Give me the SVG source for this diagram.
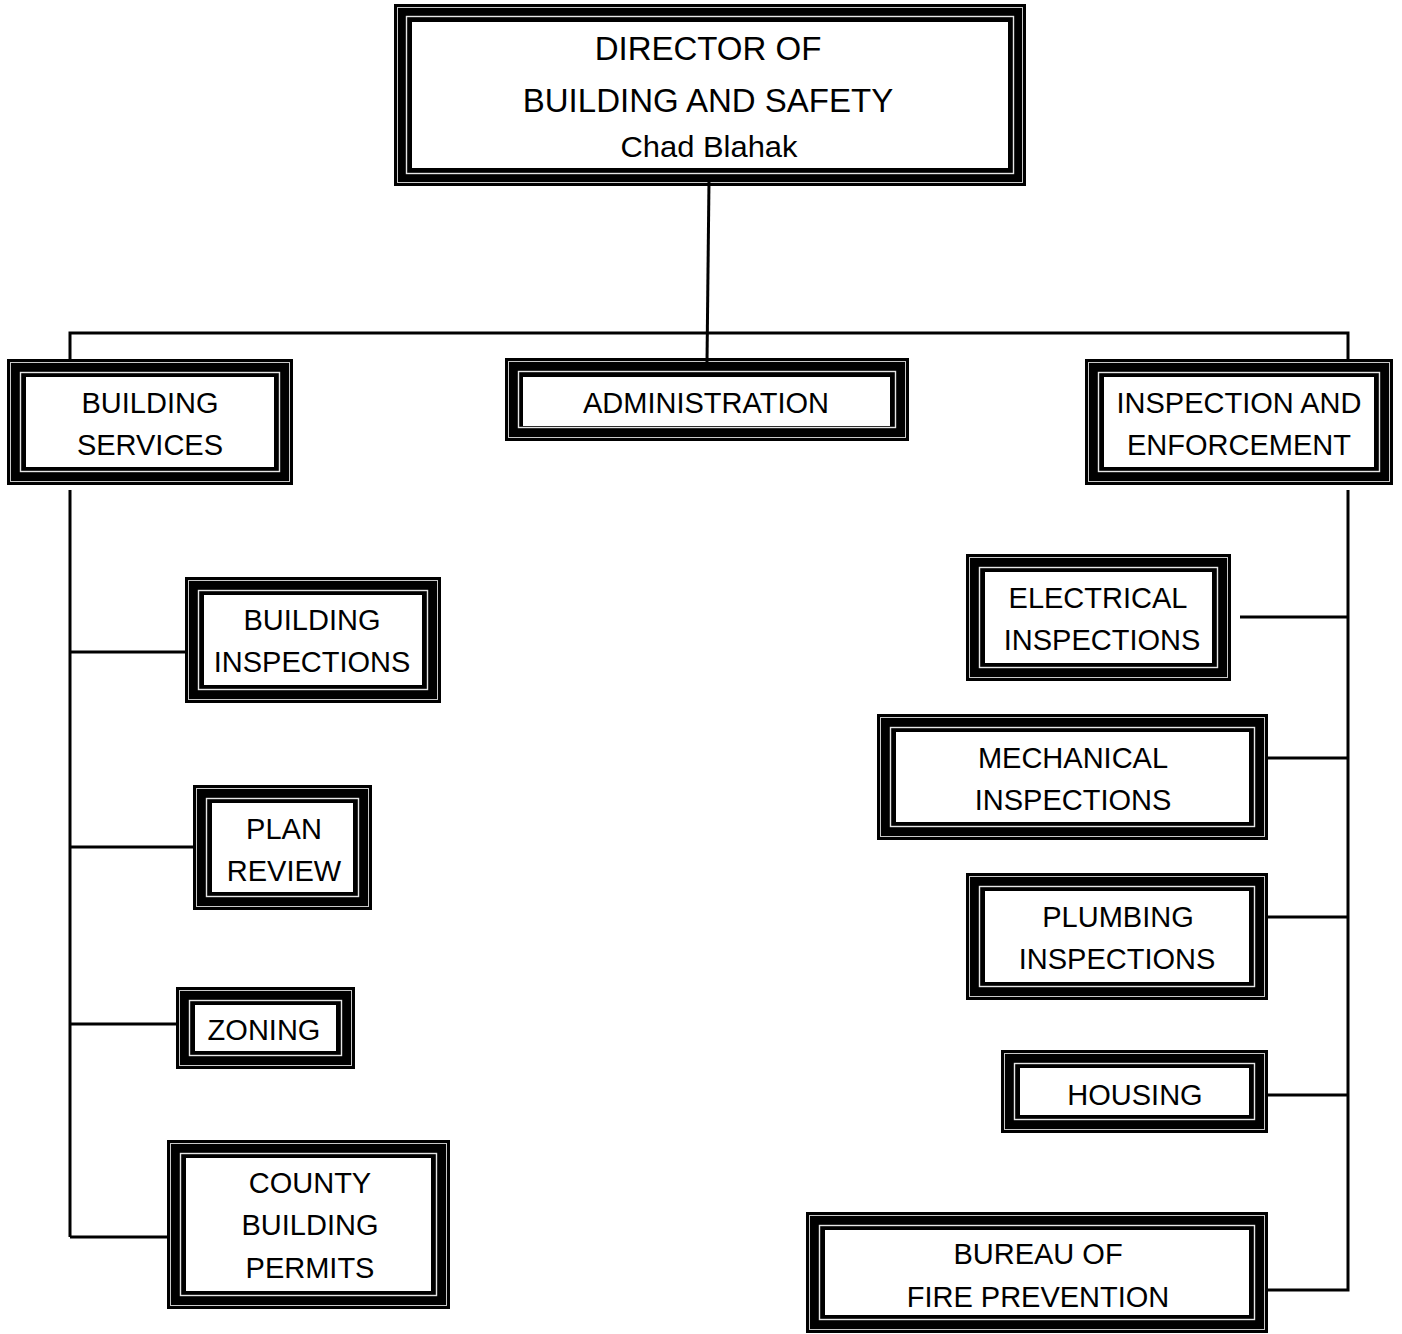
<svg xmlns="http://www.w3.org/2000/svg" width="1402" height="1334" viewBox="0 0 1402 1334">
<style>
.o{fill:#000}
.g1{fill:none;stroke:#c8c8c8;stroke-width:1}
.g2{fill:none;stroke:#e6e6e6;stroke-width:1.4}
.in{fill:#fff}
text{font-family:"Liberation Sans",Arial,sans-serif;font-size:29px;fill:#000;text-anchor:middle}
.big{font-size:33px}
.name{font-size:29px}
.c{fill:none;stroke:#000;stroke-width:3}
</style>
<rect width="1402" height="1334" fill="#fff"/>
<g id="director">
<rect class="o" x="394" y="4" width="632" height="182"/>
<rect class="g1" x="397.5" y="7.5" width="625" height="175"/>
<rect class="g2" x="406.5" y="16.5" width="607" height="157"/>
<rect class="in" x="412" y="22" width="596" height="146"/>
<text class="big" x="708" y="60">DIRECTOR OF</text>
<text class="big" x="708" y="112">BUILDING AND SAFETY</text>
<text class="name" x="709" y="157" textLength="177" lengthAdjust="spacingAndGlyphs">Chad Blahak</text>
</g>
<g id="building-services">
<rect class="o" x="7" y="359" width="286" height="126"/>
<rect class="g1" x="10.5" y="362.5" width="279" height="119"/>
<rect class="g2" x="20.5" y="372.5" width="259" height="99"/>
<rect class="in" x="26" y="377" width="248" height="90"/>
<text x="150" y="413">BUILDING</text>
<text x="150" y="455">SERVICES</text>
</g>
<g id="administration">
<rect class="o" x="505" y="358" width="404" height="83"/>
<rect class="g1" x="508.5" y="361.5" width="397" height="76"/>
<rect class="g2" x="518.5" y="371.5" width="377" height="56"/>
<rect class="in" x="523" y="377" width="367" height="49"/>
<text x="706" y="413">ADMINISTRATION</text>
</g>
<g id="inspection-enforcement">
<rect class="o" x="1085" y="359" width="308" height="126"/>
<rect class="g1" x="1088.5" y="362.5" width="301" height="119"/>
<rect class="g2" x="1098.5" y="372.5" width="281" height="99"/>
<rect class="in" x="1104" y="377" width="270" height="90"/>
<text x="1239" y="413">INSPECTION AND</text>
<text x="1239" y="455">ENFORCEMENT</text>
</g>
<g id="building-inspections">
<rect class="o" x="185" y="577" width="256" height="126"/>
<rect class="g1" x="188.5" y="580.5" width="249" height="119"/>
<rect class="g2" x="198.5" y="590.5" width="229" height="99"/>
<rect class="in" x="204" y="595" width="218" height="90"/>
<text x="312" y="630">BUILDING</text>
<text x="312" y="672">INSPECTIONS</text>
</g>
<g id="plan-review">
<rect class="o" x="193" y="785" width="179" height="125"/>
<rect class="g1" x="196.5" y="788.5" width="172" height="118"/>
<rect class="g2" x="206.5" y="798.5" width="152" height="98"/>
<rect class="in" x="212" y="803" width="141" height="89"/>
<text x="284" y="839">PLAN</text>
<text x="284" y="881">REVIEW</text>
</g>
<g id="zoning">
<rect class="o" x="176" y="987" width="179" height="82"/>
<rect class="g1" x="179.5" y="990.5" width="172" height="75"/>
<rect class="g2" x="189.5" y="1000.5" width="152" height="55"/>
<rect class="in" x="195" y="1005" width="141" height="46"/>
<text x="264" y="1040">ZONING</text>
</g>
<g id="county-building-permits">
<rect class="o" x="167" y="1140" width="283" height="169"/>
<rect class="g1" x="170.5" y="1143.5" width="276" height="162"/>
<rect class="g2" x="180.5" y="1153.5" width="256" height="142"/>
<rect class="in" x="186" y="1158" width="245" height="133"/>
<text x="310" y="1193">COUNTY</text>
<text x="310" y="1235">BUILDING</text>
<text x="310" y="1278">PERMITS</text>
</g>
<g id="electrical-inspections">
<rect class="o" x="966" y="554" width="265" height="127"/>
<rect class="g1" x="969.5" y="557.5" width="258" height="120"/>
<rect class="g2" x="979.5" y="567.5" width="238" height="100"/>
<rect class="in" x="985" y="572" width="227" height="91"/>
<text x="1098" y="608">ELECTRICAL</text>
<text x="1102" y="650">INSPECTIONS</text>
</g>
<g id="mechanical-inspections">
<rect class="o" x="877" y="714" width="391" height="126"/>
<rect class="g1" x="880.5" y="717.5" width="384" height="119"/>
<rect class="g2" x="890.5" y="727.5" width="364" height="99"/>
<rect class="in" x="896" y="732" width="353" height="90"/>
<text x="1073" y="768">MECHANICAL</text>
<text x="1073" y="810">INSPECTIONS</text>
</g>
<g id="plumbing-inspections">
<rect class="o" x="966" y="873" width="302" height="127"/>
<rect class="g1" x="969.5" y="876.5" width="295" height="120"/>
<rect class="g2" x="979.5" y="886.5" width="275" height="100"/>
<rect class="in" x="985" y="891" width="264" height="91"/>
<text x="1118" y="927">PLUMBING</text>
<text x="1117" y="969">INSPECTIONS</text>
</g>
<g id="housing">
<rect class="o" x="1001" y="1050" width="267" height="83"/>
<rect class="g1" x="1004.5" y="1053.5" width="260" height="76"/>
<rect class="g2" x="1014.5" y="1063.5" width="240" height="56"/>
<rect class="in" x="1020" y="1068" width="229" height="47"/>
<text x="1135" y="1105">HOUSING</text>
</g>
<g id="fire-prevention">
<rect class="o" x="806" y="1212" width="462" height="121"/>
<rect class="g1" x="809.5" y="1215.5" width="455" height="114"/>
<rect class="g2" x="819.5" y="1225.5" width="435" height="94"/>
<rect class="in" x="825" y="1230" width="424" height="85"/>
<text x="1038" y="1264">BUREAU OF</text>
<text x="1038" y="1307">FIRE PREVENTION</text>
</g>
<g id="connectors">
<path class="c" d="M709,180 L707,362"/>
<path class="c" d="M70,360 V333 H1348 V360"/>
<path class="c" d="M70,490 V1237"/>
<path class="c" d="M70,652 H188"/>
<path class="c" d="M70,847 H196"/>
<path class="c" d="M70,1024 H179"/>
<path class="c" d="M70,1237 H170"/>
<path class="c" d="M1348,490 V1290 H1266"/>
<path class="c" d="M1240,617 H1348"/>
<path class="c" d="M1266,758 H1348"/>
<path class="c" d="M1266,917 H1348"/>
<path class="c" d="M1266,1095 H1348"/>
</g>
</svg>
